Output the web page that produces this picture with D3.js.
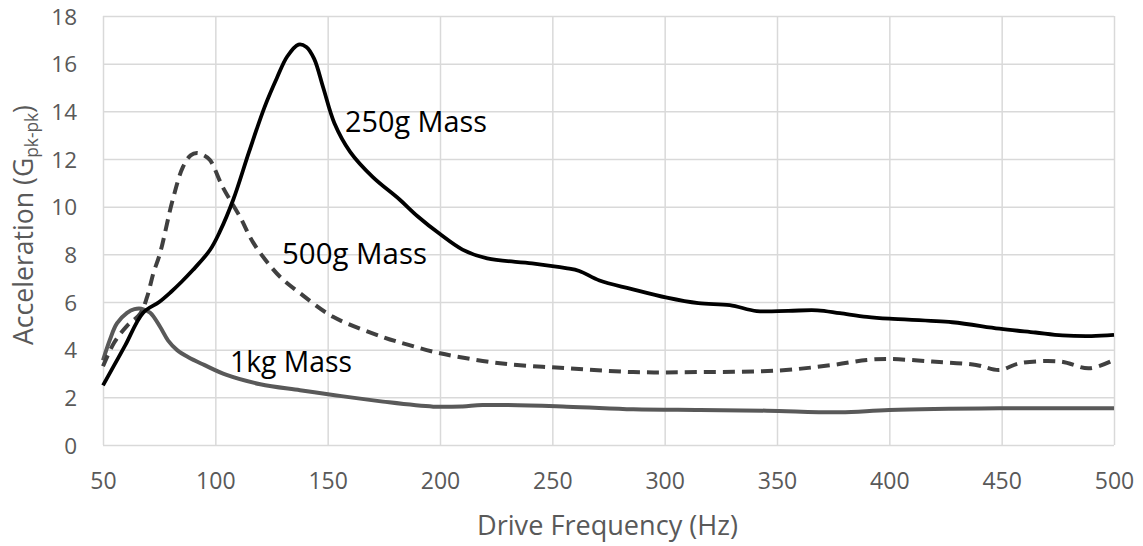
<!DOCTYPE html>
<html>
<head>
<meta charset="utf-8">
<script src="https://cdn.jsdelivr.net/npm/d3@7"></script>
<style>
  html, body { margin: 0; padding: 0; background: #fff; }
  svg { display: block; font-family: "Open Sans", "Liberation Sans", sans-serif; }
</style>
</head>
<body>
<svg id="chart" width="1143" height="546"></svg>
<script>
// ---- data ----
const xTicks = [50, 100, 150, 200, 250, 300, 350, 400, 450, 500];
const yTicks = [0, 2, 4, 6, 8, 10, 12, 14, 16, 18];

const freq250 = [50, 55, 60, 67.8, 75, 80, 85, 90, 97.6, 102, 108, 115, 122, 127.4, 132, 137, 140.5, 144, 148, 153, 160, 170, 182, 190, 200, 210, 221, 241, 256, 262, 271, 285, 301, 315, 329, 341, 355, 368, 378, 390, 400, 428, 449, 465, 477, 490, 500];
const val250  = [2.5, 3.35, 4.2, 5.54, 6.0, 6.4, 6.85, 7.34, 8.18, 8.95, 10.3, 12.3, 14.2, 15.4, 16.3, 16.8, 16.7, 16.2, 15.0, 13.5, 12.3, 11.25, 10.3, 9.6, 8.85, 8.2, 7.83, 7.62, 7.42, 7.3, 6.9, 6.55, 6.18, 5.95, 5.87, 5.62, 5.63, 5.65, 5.53, 5.38, 5.3, 5.15, 4.88, 4.72, 4.6, 4.57, 4.62];

const freq500 = [50, 55, 60.7, 66.5, 69.6, 72.4, 75.4, 81, 85.6, 89, 91.8, 95, 97.6, 103.4, 111, 116.8, 125, 130, 137.7, 152.4, 174.6, 186, 200, 226.7, 256.5, 286, 315.7, 350, 375, 390, 400, 419, 438.6, 449, 458, 476, 489, 500];
const val500  = [3.3, 4.3, 5.0, 5.5, 6.2, 7.2, 8.05, 10.28, 11.67, 12.15, 12.25, 12.15, 11.96, 10.8, 9.57, 8.5, 7.45, 6.95, 6.37, 5.38, 4.53, 4.2, 3.85, 3.43, 3.22, 3.06, 3.06, 3.12, 3.36, 3.57, 3.61, 3.5, 3.36, 3.15, 3.43, 3.5, 3.22, 3.57];

const freq1k = [50, 53, 56.2, 60.7, 64, 67, 71, 75.4, 79, 83, 88, 95, 105, 120, 137.7, 152.4, 174.6, 197, 210, 219, 256.5, 286, 315.7, 345.5, 378, 400, 449, 500];
const val1k  = [3.55, 4.4, 5.1, 5.54, 5.7, 5.72, 5.55, 4.96, 4.38, 3.98, 3.68, 3.36, 2.94, 2.55, 2.3, 2.1, 1.82, 1.61, 1.62, 1.68, 1.61, 1.5, 1.47, 1.44, 1.37, 1.47, 1.54, 1.54];

const seriesLabels = ["250g Mass", "500g Mass", "1kg Mass"];
const xTitle = "Drive Frequency (Hz)";

// ---- layout ----
const svg = d3.select("#chart");
const x = d3.scaleLinear().domain([50, 500]).range([103, 1114]);
const y = d3.scaleLinear().domain([0, 18]).range([445, 16]);
const gridColor = "#d9d9d9";
const textColor = "#595959";

// gridlines
const gy = svg.append("g")
  .attr("transform", `translate(${x.range()[0]},0)`)
  .call(d3.axisLeft(y).tickValues(yTicks).tickSize(-(x.range()[1] - x.range()[0])).tickFormat(""));
gy.select(".domain").remove();
gy.selectAll("line").attr("stroke", gridColor).attr("stroke-width", 1.5);

const gx = svg.append("g")
  .attr("transform", `translate(0,${y.range()[0]})`)
  .call(d3.axisBottom(x).tickValues(xTicks).tickSize(-(y.range()[0] - y.range()[1])).tickFormat(""));
gx.select(".domain").remove();
gx.selectAll("line").attr("stroke", gridColor).attr("stroke-width", 1.5);

// tick labels via axes
const yl = svg.append("g")
  .attr("transform", `translate(${x.range()[0]},0)`)
  .call(d3.axisLeft(y).tickValues(yTicks).tickSize(0).tickPadding(26));
yl.select(".domain").remove();
yl.selectAll("text").attr("fill", textColor).attr("font-size", 22.5)
  .attr("font-family", '"Open Sans", sans-serif').attr("dy", "0.36em");

const xl = svg.append("g")
  .attr("transform", `translate(0,${y.range()[0]})`)
  .call(d3.axisBottom(x).tickValues(xTicks).tickSize(0).tickPadding(28));
xl.select(".domain").remove();
xl.selectAll("text").attr("fill", textColor).attr("font-size", 23)
  .attr("font-family", '"Open Sans", sans-serif').attr("dy", "0.71em");

// lines
const line = (fs, vs) => d3.line().x((d, i) => x(fs[i])).y((d, i) => y(vs[i]))
  .curve(d3.curveCatmullRom.alpha(0.5))(vs);

svg.append("path").attr("d", line(freq1k, val1k))
  .attr("fill", "none").attr("stroke", "#595959").attr("stroke-width", 4).attr("stroke-linejoin", "round");
svg.append("path").attr("d", line(freq500, val500))
  .attr("fill", "none").attr("stroke", "#404040").attr("stroke-width", 4)
  .attr("stroke-dasharray", "12,7");
svg.append("path").attr("d", line(freq250, val250))
  .attr("fill", "none").attr("stroke", "#000").attr("stroke-width", 3.8).attr("stroke-linejoin", "round");

// fit helper
function fit(sel, target) {
  const fs = parseFloat(sel.attr("font-size"));
  const w = sel.node().getComputedTextLength();
  sel.attr("font-size", fs * target / w);
}

// series labels
const labelPos = [[345, 132, 142], [282, 264, 145], [230, 372, 122]];
seriesLabels.forEach((t, i) => {
  const s = svg.append("text").attr("x", labelPos[i][0]).attr("y", labelPos[i][1])
    .attr("font-size", 26).attr("fill", "#000").text(t);
  fit(s, labelPos[i][2]);
});

// x title
const xt = svg.append("text").attr("x", 607.5).attr("y", 535).attr("text-anchor", "middle")
  .attr("font-size", 23).attr("fill", textColor).text(xTitle);
fit(xt, 261);

// y title with subscript
const yt = svg.append("text").attr("transform", "translate(33,225) rotate(-90)")
  .attr("text-anchor", "middle").attr("font-size", 24).attr("fill", textColor);
yt.append("tspan").text("Acceleration (G");
yt.append("tspan").attr("font-size", "0.65em").attr("dy", "0.3em").text("pk-pk");
yt.append("tspan").attr("dy", "-0.2em").text(")");
fit(yt, 240);
</script>
</body>
</html>
